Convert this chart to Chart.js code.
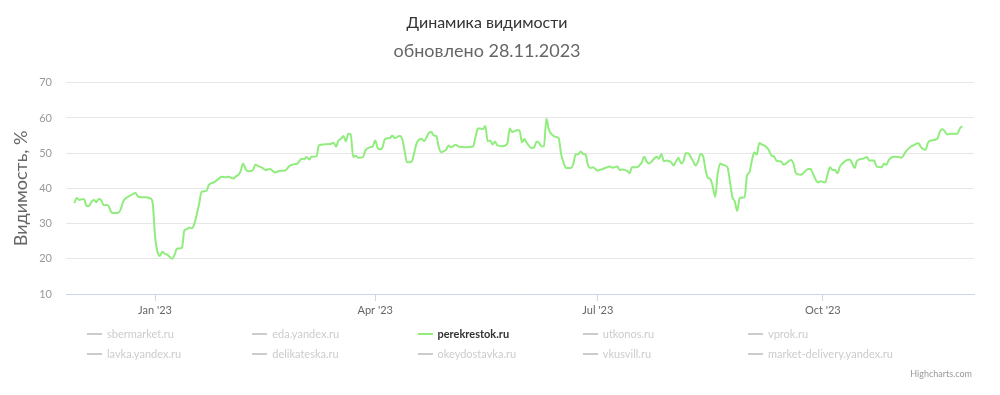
<!DOCTYPE html>
<html>
<head>
<meta charset="utf-8">
<script src="https://cdn.jsdelivr.net/npm/chart.js@4.4.0/dist/chart.umd.min.js"></script>
<style>
  html, body { margin: 0; padding: 0; background: #fff; }
  #wrap { position: relative; width: 1000px; height: 395px; font-family: "Lato", sans-serif; }
  #c { position: absolute; left: 0; top: 0; }
  .li { position: absolute; font-size: 11px; line-height: 14px; white-space: nowrap; color: #cccccc; }
  .li .dash { display: inline-block; width: 15px; height: 2px; vertical-align: middle; margin-right: 5px; position: relative; top: -1px; }
  #credits { position: absolute; right: 28px; top: 368px; font-size: 9px; color: #999; }
</style>
</head>
<body>
<div id="wrap">
  <canvas id="c" width="1000" height="395"></canvas>
  <div id="legend"></div>
  <div id="credits">Highcharts.com</div>
</div>
<script>
// Days since 2023-01-01
const dayOffsets = [-33,-32,-31,-30,-29,-28,-27,-26,-25,-24,-23,-22,-21,-20,-19,-18,-17,-15,-14,-13,-12,-10,-8,-7,-6,-4,-2,-1,0,1,2,3,4,5,6,7,8,9,11,12,13,14,15,16,18,19,21,22,24,26,27,29,30,32,33,34,35,36,37,38,40,41,42,43,44,45,47,49,51,53,55,57,58,60,61,62,63,64,66,67,69,72,73,74,75,76,77,78,79,80,81,82,83,85,86,88,89,90,91,92,93,94,96,97,98,100,101,102,103,105,106,107,109,110,111,112,113,114,115,116,117,119,120,121,123,124,127,130,131,132,133,134,135,136,137,138,139,140,142,144,145,146,148,149,150,151,152,154,155,156,157,158,159,160,161,162,164,165,166,167,168,170,171,172,173,174,175,176,177,178,179,181,182,183,184,186,187,189,190,191,193,194,195,197,198,199,200,201,202,204,205,206,207,208,209,211,212,213,214,215,216,217,218,219,220,221,222,223,224,225,226,227,228,229,230,231,232,234,235,236,237,238,239,240,241,242,243,244,245,246,247,248,250,251,252,253,254,256,257,259,260,261,262,264,265,267,268,269,271,272,274,275,276,277,278,279,280,282,284,285,286,287,289,290,291,292,294,295,297,298,299,300,302,304,305,307,309,310,312,313,314,315,316,317,319,320,321,322,324,325,327,328,329,330];

// perekrestok.ru visibility, %
const perekrestokValues = [35.8,37.3,36.7,36.9,36.9,35.0,35.0,36.2,36.7,36.1,37.0,36.7,35.2,35.3,35.0,33.4,33.0,33.1,34.1,36.3,37.2,38.0,38.7,37.7,37.5,37.5,37.2,36.0,26.5,22.0,20.8,22.0,21.4,21.2,20.5,20.0,21.2,22.9,23.1,28.1,28.4,28.9,28.7,29.8,35.5,39.0,39.3,41.0,41.7,42.7,43.3,43.2,43.3,42.8,43.4,43.8,44.9,47.1,45.5,44.9,45.2,46.7,46.4,46.1,45.8,45.2,45.5,44.5,45.0,45.0,46.4,46.9,47.0,48.4,48.3,48.9,48.2,49.0,49.1,52.2,52.5,52.7,53.0,51.9,53.6,54.1,54.9,53.4,55.5,55.3,48.9,49.3,48.7,48.9,50.8,51.7,51.9,53.6,51.5,51.1,51.7,54.0,54.3,55.0,54.3,54.9,54.1,50.8,47.4,47.7,50.3,52.9,54.1,53.4,54.5,55.8,56.0,55.0,54.9,51.7,50.3,51.0,52.2,51.7,52.4,51.9,51.7,51.9,54.6,57.0,57.0,56.8,57.7,53.4,53.6,52.5,53.3,52.2,52.0,52.7,57.0,56.0,56.5,56.5,53.1,54.0,52.9,51.5,51.7,53.3,52.9,51.9,52.0,59.8,56.7,55.5,54.6,54.3,49.8,47.4,45.8,45.8,47.0,49.8,49.6,50.5,49.8,49.6,46.5,45.8,46.0,45.0,45.3,45.5,45.8,46.2,45.9,46.2,45.2,45.4,45.0,44.3,46.0,46.0,46.5,47.4,49.0,47.6,47.1,48.4,49.0,48.4,49.8,47.7,47.9,47.4,46.5,47.7,48.7,47.1,47.7,50.0,50.0,48.9,47.7,46.5,47.7,49.8,49.3,45.5,43.0,42.7,40.5,37.6,44.0,47.1,46.7,46.0,42.0,37.6,36.3,33.6,37.2,37.4,37.4,43.6,44.6,47.9,50.3,49.6,52.9,52.5,51.7,50.8,49.3,49.1,47.9,47.6,46.7,47.7,48.1,47.0,44.3,43.9,44.3,45.5,45.5,44.1,41.7,42.0,41.7,44.1,46.0,45.2,45.2,44.3,46.2,47.7,48.2,47.1,45.8,47.9,48.4,48.6,48.9,47.9,47.9,46.2,46.0,47.0,46.7,48.1,49.0,48.9,48.7,50.5,51.9,52.2,52.9,51.9,51.2,51.0,53.0,53.6,53.8,54.4,56.3,56.8,55.3,55.5,55.5,55.5,57.0,57.7];

const tickDays = [0, 90, 181, 273];
const tickLabels = ["Jan '23", "Apr '23", "Jul '23", "Oct '23"];
const yTicks = [10, 20, 30, 40, 50, 60, 70];

const legendNames = ["sbermarket.ru", "eda.yandex.ru", "perekrestok.ru", "utkonos.ru", "vprok.ru",
                     "lavka.yandex.ru", "delikateska.ru", "okeydostavka.ru", "vkusvill.ru", "market-delivery.yandex.ru"];
const activeSeries = "perekrestok.ru";

const FONT = "Lato";

const points = dayOffsets.map((d, i) => ({ x: d, y: perekrestokValues[i] }));

new Chart(document.getElementById('c'), {
  type: 'line',
  data: {
    datasets: [{
      label: activeSeries,
      data: points,
      borderColor: '#90ed7d',
      borderWidth: 2,
      pointRadius: 0,
      fill: false,
      cubicInterpolationMode: 'monotone'
    }]
  },
  options: {
    responsive: false,
    animation: false,
    devicePixelRatio: 1,
    layout: { padding: { left: 0, right: 26, top: 0, bottom: 0 } },
    plugins: {
      legend: { display: false },
      tooltip: { enabled: false },
      title: {
        display: true,
        text: 'Динамика видимости',
        color: '#333333',
        font: { family: FONT, size: 16, weight: 'normal' },
        padding: { top: 13, bottom: 8 }
      },
      subtitle: {
        display: true,
        text: 'обновлено 28.11.2023',
        color: '#666666',
        font: { family: FONT, size: 18, weight: 'normal' },
        padding: { top: 0, bottom: 21 }
      }
    },
    scales: {
      x: {
        type: 'linear',
        min: -36.4,
        max: 334.8,
        afterFit: (s) => { s.height = 101; },
        afterBuildTicks: (s) => { s.ticks = tickDays.map(v => ({ value: v })); },
        ticks: {
          autoSkip: false,
          maxRotation: 0,
          color: '#666666',
          font: { family: FONT, size: 11 },
          padding: 3,
          callback: (v, i) => tickLabels[i]
        },
        grid: { display: true, drawOnChartArea: false, drawTicks: true, tickLength: 7, color: '#ccd6eb' },
        border: { display: true, color: '#ccd6eb', width: 1 }
      },
      y: {
        min: 10,
        max: 70,
        afterFit: (s) => { s.width = 66; },
        afterBuildTicks: (s) => { s.ticks = yTicks.map(v => ({ value: v })); },
        ticks: {
          color: '#999999',
          font: { family: FONT, size: 11 },
          padding: 14
        },
        grid: { color: '#e6e6e6', drawTicks: false },
        border: { display: false },
        title: {
          display: true,
          text: 'Видимость, %',
          color: '#666666',
          font: { family: FONT, size: 18 },
          padding: { top: 10, bottom: 0 }
        }
      }
    }
  }
});

// Legend (series other than the shown one are hidden, as in the reference)
const lg = document.getElementById('legend');
legendNames.forEach((name, i) => {
  const col = i % 5, row = Math.floor(i / 5);
  const el = document.createElement('div');
  el.className = 'li';
  el.style.left = (87 + col * 165.25) + 'px';
  el.style.top = (327 + row * 20) + 'px';
  const active = name === activeSeries;
  const dash = document.createElement('span');
  dash.className = 'dash';
  dash.style.background = active ? '#90ed7d' : '#cccccc';
  el.appendChild(dash);
  const t = document.createElement('span');
  t.textContent = name;
  if (active) { t.style.color = '#333333'; t.style.fontWeight = 'bold'; }
  el.appendChild(t);
  lg.appendChild(el);
});
</script>
</body>
</html>
